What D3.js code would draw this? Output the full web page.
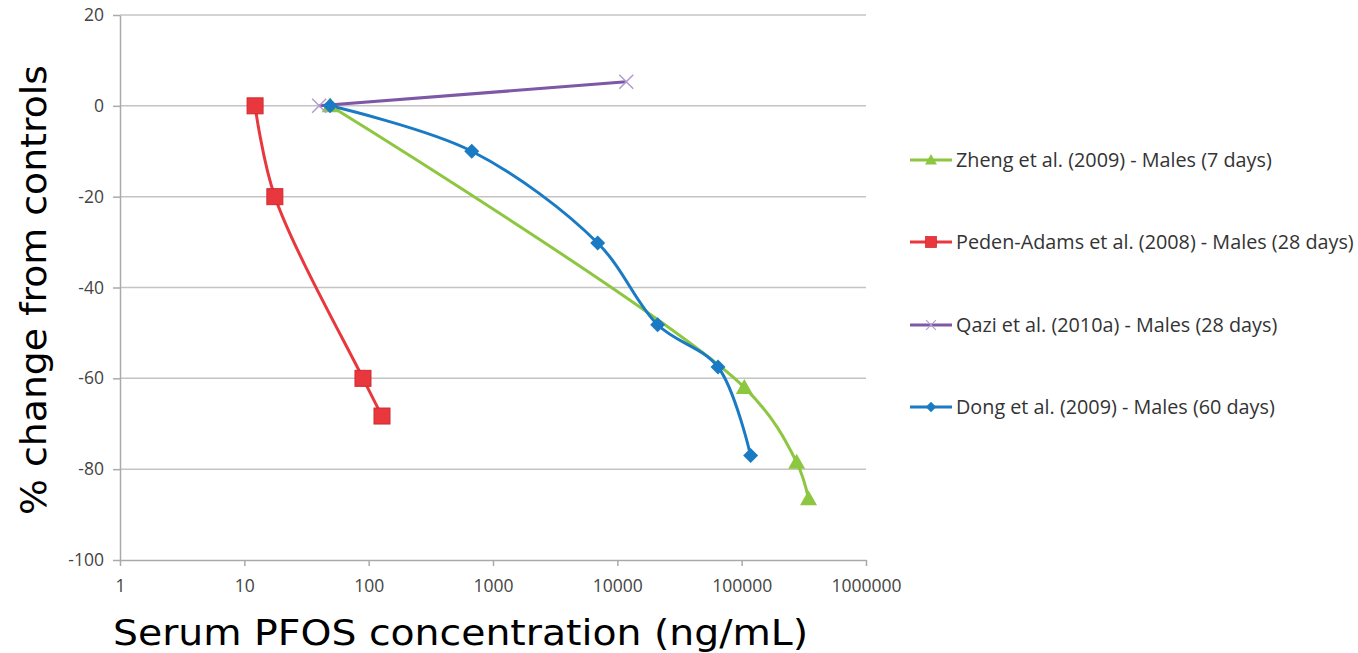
<!DOCTYPE html>
<html lang="en">
  <head>
    <meta charset="UTF-8" />
    <title>Serum PFOS vs % change from controls</title>
    <script src="https://d3js.org/d3.v7.min.js"></script>
    <style>
      body { margin: 0; background: #fff; }
      svg { display: block; }
    </style>
  </head>
  <body>
    <svg width="1358" height="653"></svg>
    <script>
      // values
      const seriesNames = [
        'Zheng et al. (2009) - Males (7 days)',
        'Peden-Adams et al. (2008) - Males (28 days)',
        'Qazi et al. (2010a) - Males (28 days)',
        'Dong et al. (2009) - Males (60 days)',
      ];
      const zhengX = [49, 105000, 277000, 345000];
      const zhengY = [0, -62, -78.5, -86.5];
      const pedenX = [12.2, 17.6, 90, 128];
      const pedenY = [0, -20, -60, -68.3];
      const qaziX = [40, 11800];
      const qaziY = [0, 5.3];
      const dongX = [49, 675, 6950, 21100, 64500, 118000];
      const dongY = [0, -10, -30.2, -48.2, -57.5, -77];
      const xTicks = [1, 10, 100, 1000, 10000, 100000, 1000000];
      const yTicks = [20, 0, -20, -40, -60, -80, -100];

      const series = [
        { name: seriesNames[0], xs: zhengX, ys: zhengY, color: '#8dc63f', marker: 'triangle' },
        { name: seriesNames[1], xs: pedenX, ys: pedenY, color: '#e8383d', marker: 'square' },
        { name: seriesNames[2], xs: qaziX, ys: qaziY, color: '#7e57a6', marker: 'cross' },
        { name: seriesNames[3], xs: dongX, ys: dongY, color: '#1a7bc4', marker: 'diamond' },
      ];

      const svg = d3.select('svg');
      const plotLeft = 120, plotRight = 866, plotTop = 15, plotBottom = 560;

      const x = d3.scaleLog().domain([1, 1000000]).range([plotLeft, plotRight]);
      const y = d3.scaleLinear().domain([-100, 20]).range([plotBottom, plotTop]);

      // gridlines
      svg.append('g')
        .selectAll('line')
        .data(yTicks.filter((d) => d !== -100))
        .join('line')
        .attr('x1', plotLeft).attr('x2', plotRight)
        .attr('y1', (d) => y(d)).attr('y2', (d) => y(d))
        .attr('stroke', '#c4c4c4').attr('stroke-width', 1.5);

      const tickFont = (sel) => sel
        .attr('font-family', 'Open Sans, sans-serif').attr('font-size', 17.5).attr('fill', '#444');

      // y axis
      const yAxis = svg.append('g')
        .attr('transform', `translate(${plotLeft},0)`)
        .call(d3.axisLeft(y).tickValues(yTicks).tickFormat((d) => String(d))
          .tickSize(7).tickSizeOuter(0).tickPadding(9));
      yAxis.select('.domain').attr('stroke', '#aaa').attr('stroke-width', 1.5);
      yAxis.selectAll('line').attr('stroke', '#aaa').attr('stroke-width', 1.5);
      yAxis.selectAll('text').call(tickFont);

      // x axis
      const xAxis = svg.append('g')
        .attr('transform', `translate(0,${plotBottom})`)
        .call(d3.axisBottom(x).tickValues(xTicks).tickFormat(d3.format('d'))
          .tickSize(6).tickSizeOuter(0).tickPadding(14));
      xAxis.select('.domain').attr('stroke', '#aaa').attr('stroke-width', 1.5);
      xAxis.selectAll('line').attr('stroke', '#aaa').attr('stroke-width', 1.5);
      xAxis.selectAll('text').call(tickFont);

      const line = d3.line()
        .x((d) => x(d[0]))
        .y((d) => y(d[1]))
        .curve(d3.curveCatmullRom.alpha(0.5));

      function drawMarker(g, type, color) {
        if (type === 'triangle') {
          g.append('path').attr('d', 'M0,-8.5L8.5,6.5L-8.5,6.5Z').attr('fill', color);
        } else if (type === 'square') {
          g.append('rect').attr('x', -8).attr('y', -8).attr('width', 16).attr('height', 16)
            .attr('fill', color).attr('stroke', '#d02a2f').attr('stroke-width', 1);
        } else if (type === 'diamond') {
          g.append('path').attr('d', 'M0,-7.5L7.5,0L0,7.5L-7.5,0Z').attr('fill', color);
        } else if (type === 'cross') {
          g.append('path').attr('d', 'M-7,-7L7,7M-7,7L7,-7')
            .attr('stroke', '#b29bcc').attr('stroke-width', 1.5).attr('fill', 'none');
        }
      }

      const plot = svg.append('g');
      series.forEach((s) => {
        const pts = s.xs.map((v, i) => [v, s.ys[i]]);
        plot.append('path')
          .attr('d', line(pts))
          .attr('fill', 'none')
          .attr('stroke', s.color)
          .attr('stroke-width', 3);
      });
      series.forEach((s) => {
        s.xs.forEach((v, i) => {
          const g = plot.append('g').attr('transform', `translate(${x(v)},${y(s.ys[i])})`);
          drawMarker(g, s.marker, s.color);
        });
      });

      // legend
      const legendY = [160, 242, 325, 407];
      series.forEach((s, i) => {
        const g = svg.append('g').attr('transform', `translate(910,${legendY[i]})`);
        g.append('line').attr('x1', 0).attr('x2', 42).attr('y1', 0).attr('y2', 0)
          .attr('stroke', s.color).attr('stroke-width', 3);
        const m = g.append('g').attr('transform', 'translate(21,0) scale(0.7)');
        drawMarker(m, s.marker, s.color);
        g.append('text').attr('x', 46).attr('y', 7)
          .attr('font-family', 'Open Sans, sans-serif').attr('font-size', 19.8)
          .attr('fill', '#333').text(s.name);
      });

      // axis titles
      svg.append('text')
        .attr('transform', 'translate(46,290) rotate(-90)')
        .attr('text-anchor', 'middle')
        .attr('font-family', 'DejaVu Sans, sans-serif').attr('font-size', 36)
        .attr('textLength', 450).attr('lengthAdjust', 'spacingAndGlyphs')
        .attr('fill', '#000')
        .text('% change from controls');
      svg.append('text')
        .attr('x', 113).attr('y', 645)
        .attr('font-family', 'DejaVu Sans, sans-serif').attr('font-size', 36)
        .attr('textLength', 695).attr('lengthAdjust', 'spacingAndGlyphs')
        .attr('fill', '#000')
        .text('Serum PFOS concentration (ng/mL)');
    </script>
  </body>
</html>
